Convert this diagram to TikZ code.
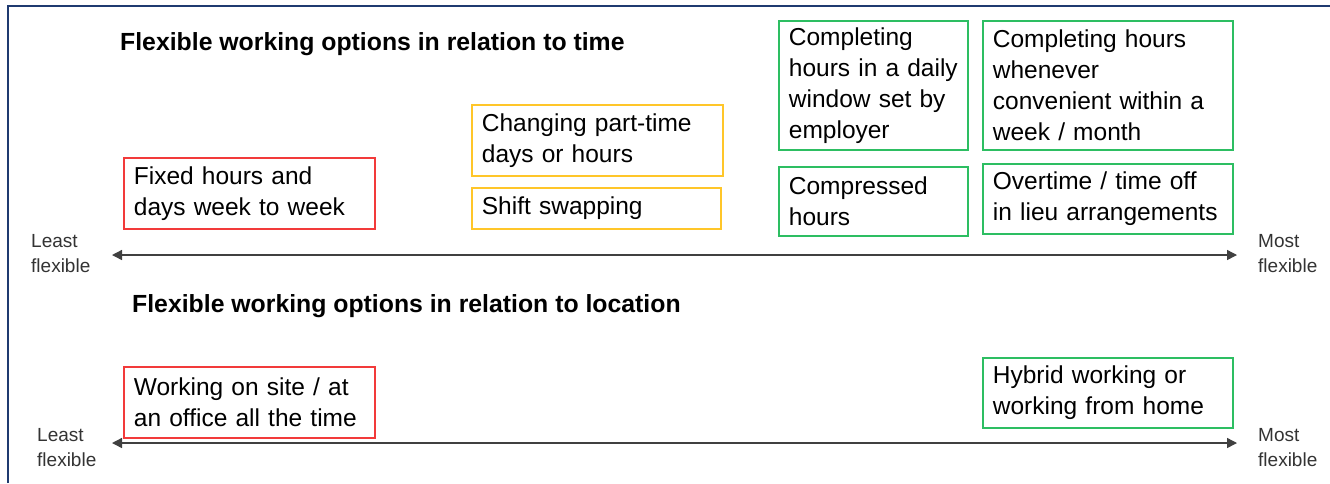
\documentclass[tikz,border=0pt]{standalone}
\usepackage{fontspec}
\setmainfont{Liberation Sans}
\usetikzlibrary{arrows.meta}
\definecolor{optred}{HTML}{F23A3A}
\definecolor{optyellow}{HTML}{FFC629}
\definecolor{optgreen}{HTML}{2DBE62}
\definecolor{frameblue}{HTML}{1F3A70}
\begin{document}
\begin{tikzpicture}[x=1pt,y=-1pt,
  optbox/.style={draw=#1, line width=1.8pt, anchor=north west, align=left,
    inner xsep=10pt, inner ysep=0pt, font=\fontsize{24.5}{31}\selectfont},
  heading/.style={anchor=base west, inner sep=0pt, font=\fontsize{24.8}{30}\selectfont\bfseries},
  scalelabel/.style={anchor=west, align=left, inner sep=0pt, font=\fontsize{19}{25}\selectfont, text=black!80},
  flexaxis/.style={{Triangle[length=10pt,width=10pt]}-{Triangle[length=10pt,width=10pt]}, line width=1.4pt, black!75}]
\useasboundingbox (0,0) rectangle (1330,483);
\fill[white] (0,0) rectangle (1330,483);
% outer frame
\draw[frameblue, line width=2.2pt] (8,483) -- (8,6) -- (1330,6);

% ---- time ----
\node[heading] (timehead) at (120,50) {Flexible working options in relation to time};

\node[optbox=optred, minimum width=251, text width=231, minimum height=71] (fixed) at (123,157)
  {Fixed hours and\\days week to week};
\node[optbox=optyellow, minimum width=251, text width=231, minimum height=71] (parttime) at (471,104)
  {Changing part-time\\days or hours};
\node[optbox=optyellow, minimum width=249, text width=229, minimum height=41] (swap) at (471,187)
  {Shift swapping};
\node[optbox=optgreen, minimum width=189, text width=169, minimum height=129] (window) at (778,20)
  {Completing\\hours in a daily\\window set by\\employer};
\node[optbox=optgreen, minimum width=250, text width=230, minimum height=129] (whenever) at (982,20)
  {Completing hours\\whenever\\convenient within a\\week / month};
\node[optbox=optgreen, minimum width=189, text width=169, minimum height=69] (compressed) at (778,166)
  {Compressed\\hours};
\node[optbox=optgreen, minimum width=250, text width=230, minimum height=70] (toil) at (982,163)
  {Overtime / time off\\in lieu arrangements};

\node[scalelabel] (tleast) at (31,254) {Least\\flexible};
\node[scalelabel] (tmost) at (1258,254) {Most\\flexible};
\coordinate (tleft) at (112,255);
\coordinate (tright) at (1237,255);
\draw[flexaxis] (tleft) -- (tright);

% ---- location ----
\node[heading] (lochead) at (132,312) {Flexible working options in relation to location};

\node[optbox=optred, minimum width=251, text width=231, minimum height=71] (onsite) at (123,366)
  {Working on site / at\\an office all the time};
\node[optbox=optgreen, minimum width=250, text width=230, minimum height=70] (hybrid) at (982,357)
  {Hybrid working or\\working from home};

\node[scalelabel] (lleast) at (37,448) {Least\\flexible};
\node[scalelabel] (lmost) at (1258,448) {Most\\flexible};
\coordinate (lleft) at (112,443);
\coordinate (lright) at (1237,443);
\draw[flexaxis] (lleft) -- (lright);
\end{tikzpicture}
\end{document}
